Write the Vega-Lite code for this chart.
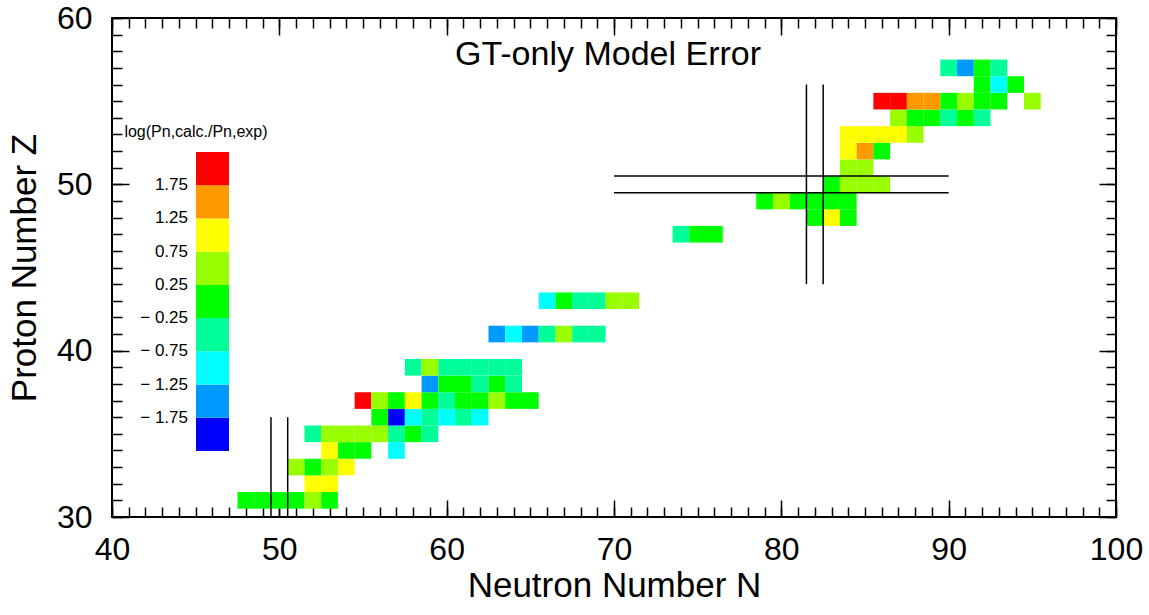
{
  "$schema": "https://vega.github.io/schema/vega-lite/v6.json",
  "autosize": "none",
  "padding": {"left": 112, "top": 18, "right": 33, "bottom": 98},
  "width": 1004,
  "height": 499,
  "background": "white",
  "title": {"text": "GT-only Model Error", "fontSize": 34, "fontWeight": "normal", "font": "Liberation Sans", "color": "black", "anchor": "middle", "frame": "group", "offset": -70, "dx": -6},
  "datasets": {
    "cells": [
      {"N": 48, "Z": 31, "v": 0}, {"N": 49, "Z": 31, "v": 0}, {"N": 50, "Z": 31, "v": 0}, {"N": 51, "Z": 31, "v": 0}, {"N": 52, "Z": 31, "v": 0.5}, {"N": 53, "Z": 31, "v": 0},
      {"N": 52, "Z": 32, "v": 1}, {"N": 53, "Z": 32, "v": 1},
      {"N": 51, "Z": 33, "v": 0.5}, {"N": 52, "Z": 33, "v": 0}, {"N": 53, "Z": 33, "v": 0.5}, {"N": 54, "Z": 33, "v": 1},
      {"N": 53, "Z": 34, "v": 1}, {"N": 54, "Z": 34, "v": 0}, {"N": 55, "Z": 34, "v": 0}, {"N": 57, "Z": 34, "v": -1},
      {"N": 52, "Z": 35, "v": -0.5}, {"N": 53, "Z": 35, "v": 0.5}, {"N": 54, "Z": 35, "v": 0.5}, {"N": 55, "Z": 35, "v": 0.5}, {"N": 56, "Z": 35, "v": 0.5}, {"N": 57, "Z": 35, "v": -0.5}, {"N": 58, "Z": 35, "v": 0}, {"N": 59, "Z": 35, "v": -0.5},
      {"N": 56, "Z": 36, "v": 0}, {"N": 57, "Z": 36, "v": -2}, {"N": 58, "Z": 36, "v": -1}, {"N": 59, "Z": 36, "v": -0.5}, {"N": 60, "Z": 36, "v": -1}, {"N": 61, "Z": 36, "v": -0.5}, {"N": 62, "Z": 36, "v": -1},
      {"N": 55, "Z": 37, "v": 2}, {"N": 56, "Z": 37, "v": 0.5}, {"N": 57, "Z": 37, "v": 0}, {"N": 58, "Z": 37, "v": 1}, {"N": 59, "Z": 37, "v": 0}, {"N": 60, "Z": 37, "v": -0.5}, {"N": 61, "Z": 37, "v": 0}, {"N": 62, "Z": 37, "v": 0}, {"N": 63, "Z": 37, "v": 0.5}, {"N": 64, "Z": 37, "v": 0}, {"N": 65, "Z": 37, "v": 0},
      {"N": 59, "Z": 38, "v": -1.5}, {"N": 60, "Z": 38, "v": 0}, {"N": 61, "Z": 38, "v": 0}, {"N": 62, "Z": 38, "v": -0.5}, {"N": 63, "Z": 38, "v": 0}, {"N": 64, "Z": 38, "v": -0.5},
      {"N": 58, "Z": 39, "v": -0.5}, {"N": 59, "Z": 39, "v": 0.5}, {"N": 60, "Z": 39, "v": -0.5}, {"N": 61, "Z": 39, "v": -0.5}, {"N": 62, "Z": 39, "v": -0.5}, {"N": 63, "Z": 39, "v": -0.5}, {"N": 64, "Z": 39, "v": -0.5},
      {"N": 63, "Z": 41, "v": -1.5}, {"N": 64, "Z": 41, "v": -1}, {"N": 65, "Z": 41, "v": -1.5}, {"N": 66, "Z": 41, "v": -0.5}, {"N": 67, "Z": 41, "v": 0.5}, {"N": 68, "Z": 41, "v": -0.5}, {"N": 69, "Z": 41, "v": -0.5},
      {"N": 66, "Z": 43, "v": -1}, {"N": 67, "Z": 43, "v": 0}, {"N": 68, "Z": 43, "v": -0.5}, {"N": 69, "Z": 43, "v": -0.5}, {"N": 70, "Z": 43, "v": 0.5}, {"N": 71, "Z": 43, "v": 0.5},
      {"N": 74, "Z": 47, "v": -0.5}, {"N": 75, "Z": 47, "v": 0}, {"N": 76, "Z": 47, "v": 0},
      {"N": 82, "Z": 48, "v": 0}, {"N": 83, "Z": 48, "v": 1}, {"N": 84, "Z": 48, "v": 0},
      {"N": 79, "Z": 49, "v": 0}, {"N": 80, "Z": 49, "v": 0.5}, {"N": 81, "Z": 49, "v": 0}, {"N": 82, "Z": 49, "v": 0}, {"N": 83, "Z": 49, "v": 0}, {"N": 84, "Z": 49, "v": 0},
      {"N": 83, "Z": 50, "v": 0}, {"N": 84, "Z": 50, "v": 0.5}, {"N": 85, "Z": 50, "v": 0.5}, {"N": 86, "Z": 50, "v": 0.5},
      {"N": 84, "Z": 51, "v": 0.5}, {"N": 85, "Z": 51, "v": 0.5},
      {"N": 84, "Z": 52, "v": 1}, {"N": 85, "Z": 52, "v": 1.5}, {"N": 86, "Z": 52, "v": 0},
      {"N": 84, "Z": 53, "v": 1}, {"N": 85, "Z": 53, "v": 1}, {"N": 86, "Z": 53, "v": 1}, {"N": 87, "Z": 53, "v": 1}, {"N": 88, "Z": 53, "v": 0.5},
      {"N": 87, "Z": 54, "v": 0.5}, {"N": 88, "Z": 54, "v": 0}, {"N": 89, "Z": 54, "v": 0}, {"N": 90, "Z": 54, "v": -0.5}, {"N": 91, "Z": 54, "v": 0}, {"N": 92, "Z": 54, "v": -0.5},
      {"N": 86, "Z": 55, "v": 2}, {"N": 87, "Z": 55, "v": 2}, {"N": 88, "Z": 55, "v": 1.5}, {"N": 89, "Z": 55, "v": 1.5}, {"N": 90, "Z": 55, "v": 0}, {"N": 91, "Z": 55, "v": 0.5}, {"N": 92, "Z": 55, "v": 0}, {"N": 93, "Z": 55, "v": 0}, {"N": 95, "Z": 55, "v": 0.5},
      {"N": 92, "Z": 56, "v": 0}, {"N": 93, "Z": 56, "v": -1}, {"N": 94, "Z": 56, "v": 0},
      {"N": 90, "Z": 57, "v": -0.5}, {"N": 91, "Z": 57, "v": -1.5}, {"N": 92, "Z": 57, "v": 0}, {"N": 93, "Z": 57, "v": -0.5}
    ],
    "lines": [
      {"x": 49.5, "x2": 49.5, "y": 30, "y2": 36},
      {"x": 50.5, "x2": 50.5, "y": 30, "y2": 36},
      {"x": 81.5, "x2": 81.5, "y": 44, "y2": 56},
      {"x": 82.5, "x2": 82.5, "y": 44, "y2": 56},
      {"x": 70, "x2": 90, "y": 49.5, "y2": 49.5},
      {"x": 70, "x2": 90, "y": 50.5, "y2": 50.5}
    ]
  },
  "layer": [
    {
      "data": {"name": "cells"},
      "mark": {"type": "rect", "width": {"expr": "width/60"}, "height": {"expr": "height/30"}},
      "encoding": {
        "x": {"field": "N", "type": "quantitative", "scale": {"domain": [40, 100], "nice": false, "zero": false},
          "axis": {"orient": "bottom", "values": [40, 50, 60, 70, 80, 90, 100], "tickSize": -17, "labelPadding": 34, "title": "Neutron Number N", "titlePadding": 3}},
        "y": {"field": "Z", "type": "quantitative", "scale": {"domain": [30, 60], "nice": false, "zero": false},
          "axis": {"orient": "left", "values": [30, 40, 50, 60], "tickSize": -17, "labelPadding": 37, "title": "Proton Number Z", "titlePadding": 14}},
        "color": {"field": "v", "type": "quantitative",
          "scale": {"type": "threshold", "domain": [-1.75, -1.25, -0.75, -0.25, 0.25, 0.75, 1.25, 1.75],
            "range": ["#0000ff", "#0099ff", "#00ffff", "#00ff99", "#00ff00", "#99ff00", "#ffff00", "#ff9900", "#ff0000"]},
          "legend": {"type": "gradient", "orient": "none", "legendX": 12, "legendY": 106, "direction": "vertical", "padding": 0,
            "gradientLength": 299, "gradientThickness": 33, "gradientStrokeWidth": 0,
            "title": "log(Pn,calc./Pn,exp)", "titleFontSize": 16, "titleFontWeight": "normal", "titleFont": "Liberation Sans", "titleColor": "black",
            "titleAnchor": "start", "titleAlign": "center", "titlePadding": 12,
            "labelFontSize": 17, "labelFont": "Liberation Sans", "labelColor": "black", "labelOffset": -41, "labelAlign": "right", "labelOverlap": false,
            "labelExpr": "isFinite(datum.value) ? (datum.value < 0 ? '\u2212 ' + format(-datum.value, '.2f') : format(datum.value, '.2f')) : ''",
            "encode": {"labels": {"update": {"align": {"value": "right"}}}}}}
      }
    },
    {
      "data": {"name": "lines"},
      "mark": {"type": "rule", "color": "black", "strokeWidth": 1.5},
      "encoding": {
        "x": {"field": "x", "type": "quantitative", "scale": {"domain": [40, 100], "nice": false, "zero": false},
          "axis": {"orient": "bottom", "values": [40,41,42,43,44,45,46,47,48,49,50,51,52,53,54,55,56,57,58,59,60,61,62,63,64,65,66,67,68,69,70,71,72,73,74,75,76,77,78,79,80,81,82,83,84,85,86,87,88,89,90,91,92,93,94,95,96,97,98,99,100], "tickSize": -10, "labels": false, "title": null}},
        "x2": {"field": "x2"},
        "y": {"field": "y", "type": "quantitative", "scale": {"domain": [30, 60], "nice": false, "zero": false},
          "axis": {"orient": "left", "values": [30,31,32,33,34,35,36,37,38,39,40,41,42,43,44,45,46,47,48,49,50,51,52,53,54,55,56,57,58,59,60], "tickSize": -10, "labels": false, "title": null}},
        "y2": {"field": "y2"}
      }
    },
    {
      "data": {"name": "lines"},
      "mark": {"type": "rule", "color": "black", "opacity": 0},
      "encoding": {
        "x": {"field": "x", "type": "quantitative", "scale": {"domain": [40, 100], "nice": false, "zero": false},
          "axis": {"orient": "top", "values": [40, 50, 60, 70, 80, 90, 100], "tickSize": -17, "labels": false, "title": null}},
        "x2": {"field": "x2"},
        "y": {"field": "y", "type": "quantitative", "scale": {"domain": [30, 60], "nice": false, "zero": false},
          "axis": {"orient": "right", "values": [30, 40, 50, 60], "tickSize": -17, "labels": false, "title": null}},
        "y2": {"field": "y2"}
      }
    },
    {
      "data": {"name": "lines"},
      "mark": {"type": "rule", "color": "black", "opacity": 0},
      "encoding": {
        "x": {"field": "x", "type": "quantitative", "scale": {"domain": [40, 100], "nice": false, "zero": false},
          "axis": {"orient": "top", "values": [40,41,42,43,44,45,46,47,48,49,50,51,52,53,54,55,56,57,58,59,60,61,62,63,64,65,66,67,68,69,70,71,72,73,74,75,76,77,78,79,80,81,82,83,84,85,86,87,88,89,90,91,92,93,94,95,96,97,98,99,100], "tickSize": -10, "labels": false, "title": null}},
        "x2": {"field": "x2"},
        "y": {"field": "y", "type": "quantitative", "scale": {"domain": [30, 60], "nice": false, "zero": false},
          "axis": {"orient": "right", "values": [30,31,32,33,34,35,36,37,38,39,40,41,42,43,44,45,46,47,48,49,50,51,52,53,54,55,56,57,58,59,60], "tickSize": -10, "labels": false, "title": null}},
        "y2": {"field": "y2"}
      }
    }
  ],
  "resolve": {"axis": {"x": "independent", "y": "independent"}},
  "config": {
    "font": "Liberation Sans",
    "view": {"stroke": "black", "strokeWidth": 2},
    "axis": {"grid": false, "domain": false, "tickColor": "black", "tickWidth": 1.5, "labelColor": "black", "titleColor": "black",
      "labelFlush": false, "labelOverlap": false, "labelFont": "Liberation Sans", "titleFont": "Liberation Sans",
      "titleFontWeight": "normal", "labelFontSize": 32, "titleFontSize": 35}
  }
}
